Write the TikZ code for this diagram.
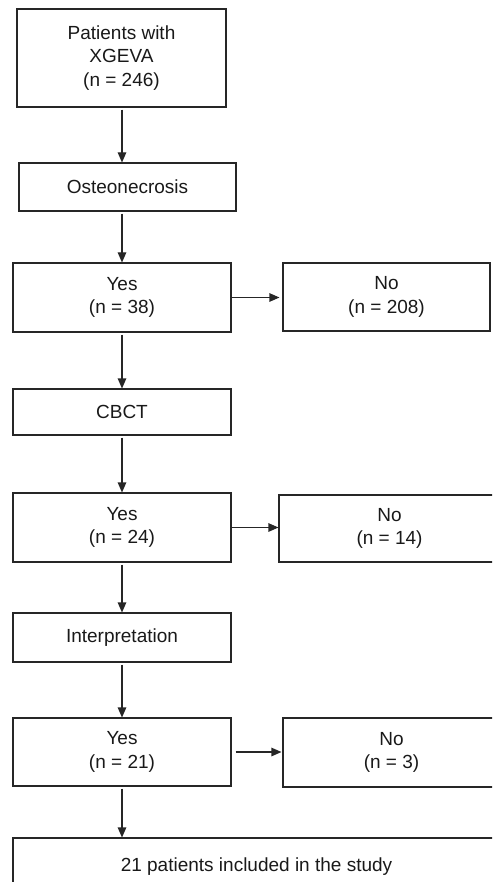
\documentclass[tikz,border=0pt]{standalone}
\usepackage{fontspec}
\setmainfont{Liberation Sans}
\usetikzlibrary{arrows.meta}

\begin{document}
\begin{tikzpicture}[x=1pt, y=-1pt,
    box/.style={draw=black!85, line width=1.1pt, rectangle, inner sep=0pt,
      align=center, text=black!90, font=\fontsize{19}{23.5}\selectfont},
    flow/.style={draw=black!85, line width=1.1pt, -{Triangle[length=10pt, width=8.5pt]}}]

    \clip (0, 0) rectangle (492, 882);

    % main column
    \node [box, minimum width=209pt, minimum height=98pt] (pat) at (121.5, 58) {Patients with\\XGEVA\\(n = 246)};
    \node [box, minimum width=217pt, minimum height=48pt] (osteo) at (127.5, 187) {Osteonecrosis};
    \node [box, minimum width=218pt, minimum height=69pt] (yesA) at (122, 297.5) {Yes\\(n = 38)};
    \node [box, minimum width=218pt, minimum height=46pt] (cbct) at (122, 412) {CBCT};
    \node [box, minimum width=218pt, minimum height=69pt] (yesB) at (122, 527.5) {Yes\\(n = 24)};
    \node [box, minimum width=218pt, minimum height=49pt] (interp) at (122, 637.5) {Interpretation};
    \node [box, minimum width=218pt, minimum height=68pt] (yesC) at (122, 752) {Yes\\(n = 21)};
    \node [box, minimum width=487pt, minimum height=58pt] (study) at (256.5, 867) {21 patients included in the study};

    % side column
    \node [box, minimum width=207pt, minimum height=68pt] (noA) at (386.5, 297) {No\\(n = 208)};
    \node [box, minimum width=221pt, minimum height=67pt] (noB) at (389.5, 528.5) {No\\(n = 14)};
    \node [box, minimum width=217pt, minimum height=69pt] (noC) at (391.5, 752.5) {No\\(n = 3)};

    \draw [flow, shorten <=2pt] (pat.south -| yesA.north) -- (osteo.north -| yesA.north);
    \draw [flow, shorten <=2pt] (osteo.south -| yesA.north) -- (yesA.north);
    \draw [flow, shorten <=2pt] (yesA.south) -- (cbct.north);
    \draw [flow, shorten <=2pt] (cbct.south) -- (yesB.north);
    \draw [flow, shorten <=2pt] (yesB.south) -- (interp.north);
    \draw [flow, shorten <=2pt] (interp.south) -- (yesC.north);
    \draw [flow, shorten <=2pt] (yesC.south) -- (yesC.south |- study.north);

    \draw [flow, shorten >=3pt] (yesA.east) -- (yesA.east -| noA.west);
    \draw [flow] (yesB.east) -- (yesB.east -| noB.west);
    \draw [flow, shorten <=4pt, shorten >=1pt] (yesC.east) -- (yesC.east -| noC.west);

\end{tikzpicture}
\end{document}
